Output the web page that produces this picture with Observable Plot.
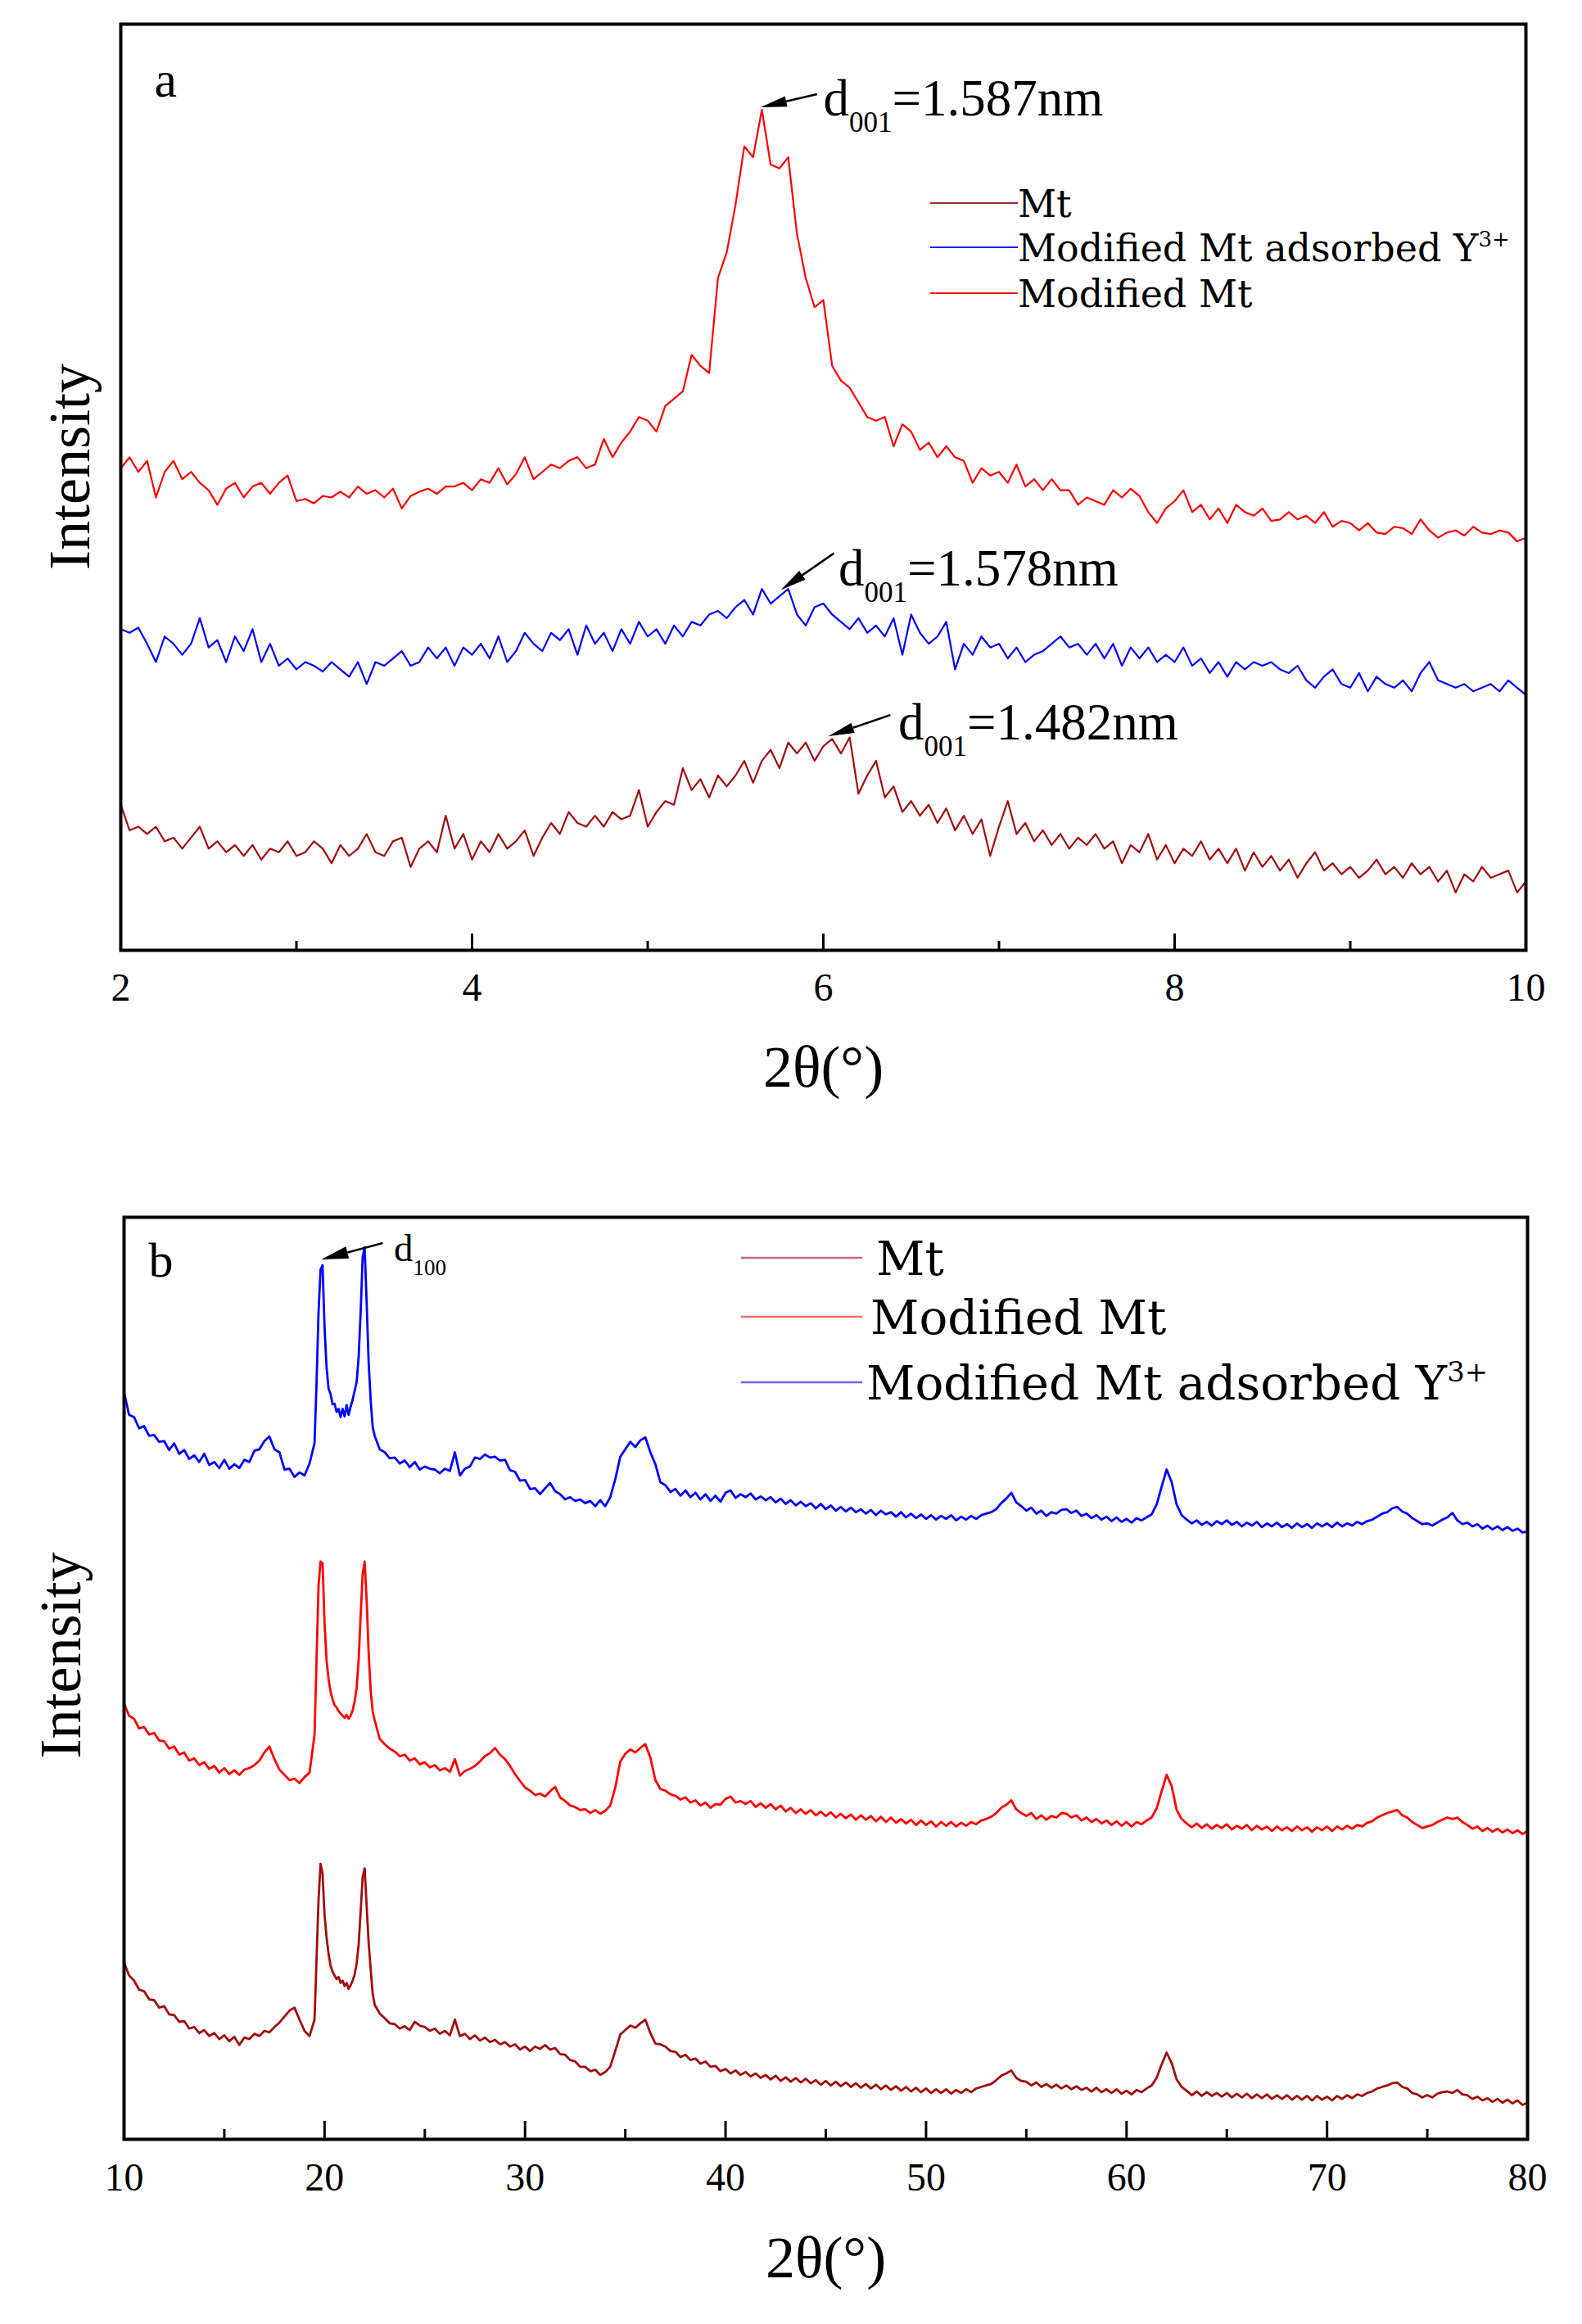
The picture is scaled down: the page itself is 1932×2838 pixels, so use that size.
<!DOCTYPE html>
<html>
<head>
<meta charset="utf-8">
<script src="https://cdn.jsdelivr.net/npm/d3@7"></script>
<script src="https://cdn.jsdelivr.net/npm/@observablehq/plot@0.6"></script>
<style>
  html, body { margin: 0; padding: 0; background: #fff; }
  #wrap { width: 1932px; }
  #wrap svg { display: block; }
</style>
</head>
<body>
<div id="wrap"></div>
<script>
// ---------------- DATA ----------------
// Series names and colours
const names = ["Mt", "Modified Mt", "Modified Mt adsorbed Y3+"];
const colors = ["#a00d0d", "#ff0000", "#0000ff"];

// Panel a: 2θ from 2 to 10 (step 0.05), intensity in arbitrary units
const startA = 2, stepA = 0.05, countA = 161;
const ticksMajorA = [2, 4, 6, 8, 10];
const ticksMinorA = [3, 5, 7, 9];

const mtA = [
199,164,169,159,169,149,154,139,154,169,139,149,134,144,129,144,124,139,134,149,
129,134,149,139,119,144,129,139,159,134,129,149,154,114,139,149,134,184,139,159,
124,149,134,159,139,149,164,129,154,174,159,189,174,169,184,169,189,179,184,219,
169,189,204,199,249,219,234,209,239,224,239,259,229,259,274,249,284,269,284,259,
279,289,269,291,214,239,259,209,224,189,204,184,199,174,194,164,184,159,179,129,
169,204,159,174,149,164,144,159,139,154,144,159,139,149,119,144,134,159,124,144,
119,139,129,149,124,139,119,139,109,134,114,129,109,124,99,119,134,109,119,104,
114,99,109,124,104,114,99,119,104,114,94,109,79,104,94,114,99,104,109,79,
94];
const modifiedA = [
659,674,654,669,619,654,669,644,654,639,629,609,631,639,619,634,639,624,639,649,
614,617,611,621,619,627,619,634,624,629,619,631,604,621,627,631,624,634,634,639,
629,644,639,659,637,651,674,644,654,664,659,669,674,659,664,699,674,694,709,729,
724,709,744,754,764,814,799,789,919,954,1019,1099,1084,1149,1074,1069,1084,979,919,879,
889,799,779,769,749,729,724,729,689,719,709,684,694,674,689,674,669,639,659,649,
654,639,664,634,644,629,644,629,629,609,619,614,609,629,619,631,621,599,584,604,
614,629,599,609,589,604,584,609,599,594,604,587,589,599,589,594,584,599,579,587,
584,574,584,571,569,579,577,569,589,574,564,571,574,567,579,571,569,574,571,559,
564];
const adsorbedA = [
439,434,441,419,394,429,419,404,419,454,414,424,394,429,409,439,394,419,389,399,
384,394,389,381,394,384,374,394,364,394,389,399,409,389,394,414,399,414,389,414,
404,419,399,429,394,409,434,419,409,434,424,439,404,444,419,434,409,439,419,449,
429,439,419,444,429,449,444,459,464,454,469,479,459,494,474,484,494,459,444,469,
474,459,449,439,454,434,444,429,454,404,459,434,419,429,449,384,419,404,429,414,
419,399,414,394,404,409,419,429,414,419,404,419,399,419,389,414,399,414,394,404,
394,414,389,399,379,394,374,394,384,394,389,394,384,379,389,369,359,374,384,364,
359,379,354,374,364,359,369,354,379,394,369,364,359,364,354,359,364,354,369,359,
349];

// Panel a annotations (peak 2θ, intensity, label)
const annotA = [
  {theta: 5.65, I: 1149, label: "d001=1.587nm"},
  {theta: 5.76, I: 493,  label: "d001=1.578nm"},
  {theta: 6.03, I: 292,  label: "d001=1.482nm"}
];

// Panel b: 2θ from 10 to 80; step 0.25 with 0.1 around the two main reflections
const seg1B = {start: 10, step: 0.25, count: 38};
const seg2B = {start: 19.5, step: 0.1, count: 31};
const seg3B = {start: 22.75, step: 0.25, count: 230};
const ticksMajorB = [10, 20, 30, 40, 50, 60, 70, 80];
const ticksMinorB = [15, 25, 35, 45, 55, 65, 75];

const mtB = [
236,219,212,200,198,187,186,176,178,167,166,157,158,148,150,142,146,138,142,134,139,131,137,126,136,134,141,138,145,143,150,156,164,172,176,160,145,138,
160,240,320,368,355,300,270,248,232,224,219,214,217,209,212,205,209,201,206,212,220,235,260,305,350,362,312,262,228,195,180,
168,
162,155,154,148, 151,146,157,152, 150,145,148,141, 145,139,160,138, 141,134,139,132, 136,130,133,127, 130,124,127,120,
124,118,124,121, 126,120,122,114, 113,106,104,97, 97,91,93,86, 90,97,118,140, 146,152,149,155, 160,142,128,127,
124,118,117,110, 113,106,108,101, 104,97,98,91, 94,88,92,86, 90,84,88,82, 86,80,85,78, 83,77,82,76,
81,75,79,73, 78,72,77,71, 76,70,75,69, 74,68,73,67, 72,66,71,65, 70,64,69,63, 68,62,67,62,
67,61,66,62, 67,63,68,70, 72,74,79,85, 88,92,82,78, 77,72,76,70, 74,69,73,68, 72,67,71,66,
69,64,69,63, 67,62,67,61, 65,60,66,63, 68,72,82,100, 116,102,80,70, 65,59,64,58, 63,58,62,57,
62,56,61,56, 61,55,60,55, 60,54,59,54, 59,53,58,53, 58,52,58,53, 57,52,58,54, 59,55,60,58,
62,64,68,70, 72,75,76,70, 68,62,60,56, 59,56,61,63, 64,62,66,60, 59,54,57,52, 55,50,54,49,
53,48,52,46, 49];
const modifiedB = [
582,566,562,549,551,541,543,533,532,522,525,514,517,506,509,500,504,495,499,490,496,488,493,487,494,496,500,506,517,525,508,494,487,480,482,476,484,490,
540,640,740,772,770,690,640,615,598,588,580,577,572,569,566,563,567,562,566,573,585,603,640,700,755,772,720,650,600,572,560,
535,
528,522,518,512, 514,506,509,501, 504,497,500,493, 496,491,508,486, 492,495,499,505, 512,516,523,514, 508,499,488,479,
470,466,460,462, 458,465,471,457, 452,446,444,440, 441,436,440,435, 439,446,470,505, 515,521,517,523, 528,510,480,468,
466,461,459,454, 457,450,453,446, 450,443,448,447, 455,458,450,452, 448,452,444,449, 443,448,441,446, 438,443,436,441,
435,440,433,438, 432,437,430,435, 429,434,427,433, 427,432,425,431, 424,430,423,428, 422,427,420,426, 420,425,418,424,
419,424,418,423, 419,424,421,426, 428,431,436,443, 447,453,441,436, 432,436,428,433, 427,432,430,436, 435,430,433,426,
430,424,428,422, 426,420,425,419, 424,418,424,421, 426,430,442,465, 487,472,440,428, 422,417,422,416, 421,415,420,416,
421,414,419,415, 420,413,419,414, 418,412,418,413, 417,412,418,413, 417,411,417,413, 418,412,418,414, 419,415,420,418,
423,425,430,433, 436,438,440,433, 430,424,420,416, 418,420,424,427, 430,428,430,424, 420,415,418,412, 416,411,415,410,
414,409,413,408, 412];
const adsorbedB = [
998,968,965,950,953,940,941,932,933,921,930,916,921,909,914,905,916,901,905,897,908,896,902,897,908,905,920,922,933,939,922,918,895,896,885,891,887,903,
930,1010,1105,1162,1168,1085,1032,1003,996,982,983,972,976,965,976,966,981,968,979,988,1000,1012,1045,1105,1178,1192,1118,1038,988,952,940,
922,
918,910,911,903, 907,898,905,895, 899,896,895,890, 896,893,918,887, 896,899,911,909, 915,911,912,907, 908,894,892,880,
881,869,870,862, 870,877,866,862, 855,858,853,855, 850,853,846,854, 846,858,882,912, 922,932,925,934, 938,918,902,878,
874,865,869,860, 867,858,864,855, 862,853,860,852, 864,867,857,862, 858,863,855,859, 854,858,851,856, 849,854,847,852,
846,850,843,849, 842,847,840,845, 839,844,838,842, 836,841,834,840, 835,838,832,838, 831,836,830,835, 829,834,828,833,
829,834,827,832, 828,833,829,834, 836,838,842,850, 856,864,851,846, 840,844,836,840, 833,838,836,841, 842,837,840,833,
836,830,834,828, 832,826,831,825, 829,824,830,827, 831,835,848,872, 895,878,848,834, 828,823,827,821, 825,820,826,822,
827,821,825,819, 824,820,825,818, 823,819,824,818, 822,817,823,818, 822,817,823,819, 823,818,824,819, 823,820,825,822,
826,828,832,836, 838,843,845,839, 836,830,826,822, 823,820,824,828, 831,837,827,822, 824,819,822,816, 820,815,819,814,
818,813,816,811, 812];

// Panel b annotation
const annotB = [{theta: 19.86, I: 1168, label: "d100"}];

// ---------------- BUILD ----------------
const SERIF = "'Liberation Serif','Times New Roman',serif";
const LEGEND_FONT = "'DejaVu Serif',serif";

const gridA = d3.range(countA).map(i => +(startA + i * stepA).toFixed(2));
const gridB = [seg1B, seg2B, seg3B].flatMap(s => d3.range(s.count).map(i => +(s.start + i * s.step).toFixed(2)));

const problems = [];
[[mtA, "mtA"], [modifiedA, "modifiedA"], [adsorbedA, "adsorbedA"]].forEach(([a, n]) => { if (a.length !== gridA.length) problems.push(n + " " + a.length + "/" + gridA.length); });
[[mtB, "mtB"], [modifiedB, "modifiedB"], [adsorbedB, "adsorbedB"]].forEach(([a, n]) => { if (a.length !== gridB.length) problems.push(n + " " + a.length + "/" + gridB.length); });

const toRows = (grid, vals) => vals.map((v, i) => ({theta: grid[i], I: v}));

function scaleFn(plot, k, dom, rng) {
  const s = plot.scale(k);
  if (s && typeof s.apply === "function") return v => s.apply(v);
  return d3.scaleLinear(dom, rng);
}

function richText(svg, subSize, subDy) {
  d3.select(svg).selectAll("text").each(function () {
    if (this.querySelector("tspan")) return;
    const t = this.textContent;
    const m = /^d(\d{3})(.*)$/.exec(t);
    if (!m) return;
    const el = d3.select(this);
    el.text(null);
    el.append("tspan").text("d");
    el.append("tspan").attr("font-size", subSize).attr("dy", subDy).text(m[1]);
    if (m[2]) el.append("tspan").attr("dy", -subDy).text(m[2]);
  });
}

function drawArrow(g, hx, hy, tx, ty, headLen, headHalf) {
  const ang = Math.atan2(ty - hy, tx - hx);
  const bx = hx + headLen * Math.cos(ang), by = hy + headLen * Math.sin(ang);
  const px = -Math.sin(ang) * headHalf, py = Math.cos(ang) * headHalf;
  g.append("line").attr("x1", tx).attr("y1", ty).attr("x2", bx).attr("y2", by)
    .attr("stroke", "black").attr("stroke-width", 2.5);
  g.append("path").attr("d", `M${hx},${hy}L${bx + px},${by + py}L${bx - px},${by - py}Z`).attr("fill", "black");
}

function drawLegend(svg, items, opt) {
  const g = d3.select(svg).append("g")
    .attr("font-family", LEGEND_FONT).attr("font-size", opt.fontSize).attr("text-anchor", "start");
  items.forEach(it => {
    g.append("line").attr("x1", opt.x1).attr("x2", opt.x2).attr("y1", it.y).attr("y2", it.y)
      .attr("stroke", it.color).attr("stroke-width", opt.lineWidth).attr("stroke-opacity", opt.lineOpacity);
    const t = g.append("text").attr("x", it.tx).attr("y", it.y + opt.baseline)
      .attr("fill", "black").attr("text-anchor", "start");
    const m = /^(.*Y)(3\+)$/.exec(it.name);
    if (m) {
      t.append("tspan").text(m[1]);
      t.append("tspan").attr("font-size", opt.supSize).attr("dy", -opt.supDy).text(m[2]);
    } else {
      t.text(it.name);
    }
  });
}

const wrap = document.getElementById("wrap");

// ---------- Panel a ----------
const A = {w: 1932, h: 1400, mt: 29, mb: 240, ml: 147, mr: 69};
const plotHA = A.h - A.mt - A.mb;
const seriesA = [mtA, modifiedA, adsorbedA];
const offA = [
  {tdx: 75, tdy: 6.5, hx: -1, hy: -2.5, ax: 69, ay: -16},
  {tdx: 70, tdy: -5, hx: 0, hy: 1, ax: 65, ay: -45},
  {tdx: 85, tdy: 3, hx: 0, hy: 0, ax: 76, ay: -26}
];

const plotA = Plot.plot({
  width: A.w, height: A.h,
  marginTop: A.mt, marginBottom: A.mb, marginLeft: A.ml, marginRight: A.mr,
  style: {fontFamily: SERIF, background: "white", overflow: "visible", color: "black"},
  x: {domain: [2, 10], axis: null},
  y: {domain: [0, 1266], axis: null},
  marks: [
    ...seriesA.map((vals, i) => Plot.lineY(toRows(gridA, vals), {x: "theta", y: "I", stroke: colors[i], strokeWidth: 2.2, strokeLinejoin: "round"})),
    Plot.tickX(ticksMajorA, {x: d => d, insetTop: plotHA - 20, strokeWidth: 3}),
    Plot.tickX(ticksMinorA, {x: d => d, insetTop: plotHA - 11, strokeWidth: 3}),
    Plot.axisX({ticks: ticksMajorA, tickSize: 0, tickPadding: 27, fontSize: 48, fontFamily: SERIF, label: null}),
    Plot.frame({stroke: "black", strokeWidth: 4}),
    Plot.text(["a"], {frameAnchor: "top-left", dx: 41, dy: 88, lineAnchor: "bottom", textAnchor: "start", fontSize: 62, fontFamily: SERIF}),
    Plot.text(["Intensity"], {frameAnchor: "left", rotate: -90, dx: -62, dy: -25, textAnchor: "middle", lineAnchor: "middle", fontSize: 72, fontFamily: SERIF}),
    Plot.text(["2θ(°)"], {frameAnchor: "bottom", dy: 143, textAnchor: "middle", lineAnchor: "middle", fontSize: 72, fontFamily: SERIF}),
    ...annotA.map((a, i) => Plot.text([a], {x: "theta", y: "I", text: "label", dx: offA[i].tdx, dy: offA[i].tdy,
      textAnchor: "start", lineAnchor: "bottom", fontSize: 63, fontFamily: SERIF}))
  ]
});
wrap.appendChild(plotA);
richText(plotA, 35, 20);
{
  const sx = scaleFn(plotA, "x", [2, 10], [A.ml, A.w - A.mr]);
  const sy = scaleFn(plotA, "y", [0, 1266], [A.h - A.mb, A.mt]);
  const g = d3.select(plotA).append("g");
  annotA.forEach((a, i) => {
    const hx = sx(a.theta) + offA[i].hx, hy = sy(a.I) + offA[i].hy;
    drawArrow(g, hx, hy, hx + offA[i].ax, hy + offA[i].ay, 32, 6.5);
  });
  drawLegend(plotA, [
    {name: names[0], color: colors[0], y: 248, tx: 1243},
    {name: names[2], color: colors[2], y: 302, tx: 1243},
    {name: names[1], color: colors[1], y: 358, tx: 1243}
  ], {x1: 1136, x2: 1243, fontSize: 46, baseline: 17, lineWidth: 2, lineOpacity: 0.9, supSize: 26, supDy: 18});
}

// ---------- Panel b ----------
const B = {w: 1932, h: 1438, mt: 86, mb: 226, ml: 151, mr: 67};
const plotHB = B.h - B.mt - B.mb;
const seriesB = [mtB, modifiedB, adsorbedB];
const offB = [{tdx: 88, tdy: -4.5, hx: 0, hy: -6.5, ax: 75, ay: -20}];

const plotB = Plot.plot({
  width: B.w, height: B.h,
  marginTop: B.mt, marginBottom: B.mb, marginLeft: B.ml, marginRight: B.mr,
  style: {fontFamily: SERIF, background: "white", overflow: "visible", color: "black"},
  x: {domain: [10, 80], axis: null},
  y: {domain: [0, 1232], axis: null},
  marks: [
    ...seriesB.map((vals, i) => Plot.lineY(toRows(gridB, vals), {x: "theta", y: "I", stroke: colors[i], strokeWidth: 2.8, strokeLinejoin: "round"})),
    Plot.tickX(ticksMajorB, {x: d => d, insetTop: plotHB - 22, strokeWidth: 3}),
    Plot.tickX(ticksMinorB, {x: d => d, insetTop: plotHB - 12, strokeWidth: 3}),
    Plot.axisX({ticks: ticksMajorB, tickSize: 0, tickPadding: 28, fontSize: 48, fontFamily: SERIF, label: null}),
    Plot.frame({stroke: "black", strokeWidth: 4}),
    Plot.text(["b"], {frameAnchor: "top-left", dx: 30, dy: 72, lineAnchor: "bottom", textAnchor: "start", fontSize: 60, fontFamily: SERIF}),
    Plot.text(["Intensity"], {frameAnchor: "left", rotate: -90, dx: -77, dy: -28, textAnchor: "middle", lineAnchor: "middle", fontSize: 72, fontFamily: SERIF}),
    Plot.text(["2θ(°)"], {frameAnchor: "bottom", dy: 145, textAnchor: "middle", lineAnchor: "middle", fontSize: 72, fontFamily: SERIF}),
    ...annotB.map((a, i) => Plot.text([a], {x: "theta", y: "I", text: "label", dx: offB[i].tdx, dy: offB[i].tdy,
      textAnchor: "start", lineAnchor: "bottom", fontSize: 47, fontFamily: SERIF}))
  ]
});
wrap.appendChild(plotB);
richText(plotB, 27, 17);
{
  const sx = scaleFn(plotB, "x", [10, 80], [B.ml, B.w - B.mr]);
  const sy = scaleFn(plotB, "y", [0, 1232], [B.h - B.mb, B.mt]);
  const g = d3.select(plotB).append("g");
  annotB.forEach((a, i) => {
    const hx = sx(a.theta) + offB[i].hx, hy = sy(a.I) + offB[i].hy;
    drawArrow(g, hx, hy, hx + offB[i].ax, hy + offB[i].ay, 33, 7.5);
  });
  drawLegend(plotB, [
    {name: names[0], color: colors[0], y: 136, tx: 1070},
    {name: names[1], color: colors[1], y: 208, tx: 1063},
    {name: names[2], color: colors[2], y: 288, tx: 1058}
  ], {x1: 905, x2: 1053, fontSize: 58, baseline: 21, lineWidth: 2.5, lineOpacity: 0.6, supSize: 34, supDy: 22});
}

if (problems.length) {
  const d = document.createElement("div");
  d.style.cssText = "position:absolute;left:10px;top:10px;color:#f0f;font:30px sans-serif";
  d.textContent = "LENGTH MISMATCH: " + problems.join("; ");
  document.body.appendChild(d);
}
</script>
</body>
</html>
